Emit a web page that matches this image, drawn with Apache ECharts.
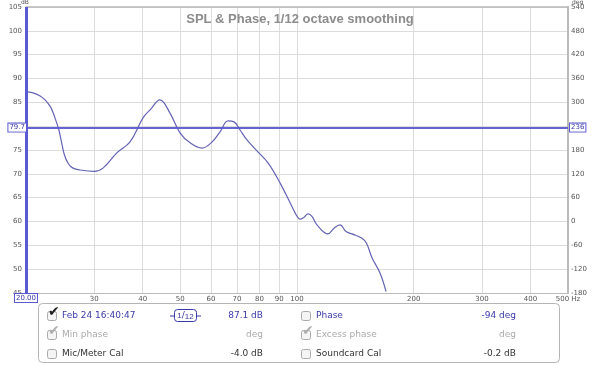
<!DOCTYPE html>
<html>
<head>
<meta charset="utf-8">
<script src="https://cdn.jsdelivr.net/npm/echarts@6/dist/echarts.min.js"></script>
<style>
html, body { margin: 0; padding: 0; background: #fff; }
#chart { width: 600px; height: 365px; }
</style>
</head>
<body>
<div id="chart"></div>
<script>
// SPL curve (Hz, dB)
const freqs = [20, 20.85, 21.7, 22.4, 23.1, 23.5, 23.9, 24.3, 24.7, 25.1, 25.6, 26.3, 27.6, 30, 31.6, 34.3, 37.1,
  40.1, 41.8, 44.3, 47.0, 49.9, 53.0, 56.9, 60.4, 63.3, 66.4, 68.8, 71.3, 74.3, 79.3, 84.2, 90.4, 97.1,
  100.0, 101.8, 104.3, 106.8, 109.3, 112.6, 120.2, 124.6, 129.1, 133.8, 138.6, 147.1, 151.0, 156.1, 163.7, 169.7];
const spl = [87.2, 87.0, 86.4, 85.5, 84.1, 82.8, 81.1, 79.3, 76.6, 74.1, 72.4, 71.3, 70.8, 70.5, 71.2, 74.4, 76.7,
  81.8, 83.4, 85.5, 82.8, 78.6, 76.5, 75.4, 76.7, 78.8, 81.1, 80.9, 79.2, 77.1, 74.6, 72.3, 68.1, 63.1,
  61.1, 60.5, 60.9, 61.6, 61.1, 59.3, 57.4, 58.6, 59.3, 57.9, 57.4, 56.5, 55.5, 52.4, 49.2, 45.3];
const freqTicks = [30, 40, 50, 60, 70, 80, 90, 100, 200, 300, 400, 500];
const cursorFreq = 20;
const cursorSpl = 79.7;
const cursorPhase = 236;

const blue = '#3a3aa8';
const grey = '#555';
const font = 'DejaVu Sans';

const chart = echarts.init(document.getElementById('chart'));

function checkbox(x, y, checked, dim) {
  const els = [{
    type: 'rect', shape: { x: x + 0.5, y: y + 0.5, width: 9, height: 9, r: 2 },
    style: { fill: '#f5f5f5', stroke: '#aaa', lineWidth: 1 }
  }];
  if (checked) {
    els.push({
      type: 'text', x: x + 1, y: y - 6,
      style: { text: '\u2714', fontSize: 14, fill: dim ? '#b0b0b0' : '#222', fontFamily: font }
    });
  }
  return els;
}

function label(x, y, text, color, align) {
  return {
    type: 'text', x: x, y: y,
    style: { text: text, fill: color, fontSize: 9, fontFamily: font, align: align || 'left', verticalAlign: 'middle' }
  };
}

const panel = [
  { type: 'rect', shape: { x: 38.5, y: 303.5, width: 521, height: 59, r: 4 },
    style: { fill: '#fff', stroke: '#b5b5b5', lineWidth: 1 } },
  ...checkbox(47, 311, true, false),
  label(62, 316, 'Feb 24 16:40:47', blue),
  { type: 'rect', shape: { x: 174.5, y: 309.5, width: 22, height: 12, r: 3 },
    style: { fill: 'none', stroke: blue, lineWidth: 1 } },
  { type: 'line', shape: { x1: 170, y1: 316, x2: 174.5, y2: 316 }, style: { stroke: blue } },
  { type: 'line', shape: { x1: 196.5, y1: 316, x2: 201, y2: 316 }, style: { stroke: blue } },
  { type: 'text', x: 185.5, y: 316,
    style: { text: '{a|1}/{b|12}', fontFamily: font, fill: blue, align: 'center', verticalAlign: 'middle',
      rich: { a: { fontSize: 8, fill: blue, verticalAlign: 'top' }, b: { fontSize: 8, fill: blue, verticalAlign: 'bottom' } },
      fontSize: 9 } },
  label(263, 316, '87.1 dB', blue, 'right'),
  ...checkbox(301, 311, false),
  label(316, 316, 'Phase', blue),
  label(516, 316, '-94 deg', blue, 'right'),

  ...checkbox(47, 330, true, true),
  label(62, 335, 'Min phase', '#aaa'),
  label(263, 335, 'deg', '#aaa', 'right'),
  ...checkbox(301, 330, true, true),
  label(316, 335, 'Excess phase', '#aaa'),
  label(516, 335, 'deg', '#aaa', 'right'),

  ...checkbox(47, 349, false),
  label(62, 354, 'Mic/Meter Cal', '#333'),
  label(263, 354, '-4.0 dB', '#333', 'right'),
  ...checkbox(301, 349, false),
  label(316, 354, 'Soundcard Cal', '#333'),
  label(516, 354, '-0.2 dB', '#333', 'right'),

  { type: 'text', x: 21, y: -1, style: { text: 'dB', fontSize: 6, fill: grey, fontFamily: font } },
  { type: 'text', x: 572, y: -1, style: { text: 'deg', fontSize: 6, fill: grey, fontFamily: font } }
];

const option = {
  animation: false,
  backgroundColor: '#fff',
  title: {
    text: 'SPL & Phase, 1/12 octave smoothing',
    left: 'center',
    top: 8,
    textStyle: { color: '#8c8c8c', fontSize: 13, fontWeight: 'bold', fontFamily: 'Liberation Sans' }
  },
  grid: { left: 26, right: 32, top: 7, bottom: 72 },
  xAxis: [{
    type: 'log',
    logBase: 10,
    min: 20,
    max: 500,
    axisLine: { show: true, onZero: false, lineStyle: { color: '#bbb', width: 1 } },
    axisTick: { show: false, customValues: freqTicks },
    axisLabel: {
      customValues: freqTicks,
      fontSize: 7,
      color: grey,
      margin: 3,
      fontFamily: font,
      formatter: v => (v === 500 ? '500 Hz' : String(v))
    },
    splitLine: { show: true, lineStyle: { color: '#dcdcdc', width: 1 } },
    minorSplitLine: { show: false }
  }, {
    type: 'log',
    position: 'top',
    min: 20,
    max: 500,
    axisLine: { show: true, onZero: false, lineStyle: { color: '#b8b8b8', width: 1.5 } },
    axisTick: { show: false },
    axisLabel: { show: false },
    splitLine: { show: false }
  }],
  yAxis: [{
    type: 'value',
    min: 45,
    max: 105,
    interval: 5,
    axisLine: { show: false },
    axisTick: { show: false },
    axisLabel: { fontSize: 7, color: grey, margin: 4, fontFamily: font },
    splitLine: { show: true, lineStyle: { color: '#dcdcdc', width: 1 } }
  }, {
    type: 'value',
    position: 'right',
    min: -180,
    max: 540,
    interval: 60,
    axisLine: { show: true, onZero: false, lineStyle: { color: '#bbb', width: 2 } },
    axisTick: { show: false },
    axisLabel: { fontSize: 7, color: grey, margin: 3, fontFamily: font },
    splitLine: { show: false }
  }],
  graphic: panel,
  series: [{
    type: 'line',
    data: freqs.map((f, i) => [f, spl[i]]),
    smooth: 0.4,
    symbol: 'none',
    clip: true,
    lineStyle: { color: '#6464b4', width: 1.2 },
    markLine: {
      silent: true,
      symbol: 'none',
      animation: false,
      data: [
        { yAxis: cursorSpl, lineStyle: { color: '#5a5ad2', width: 1.5, type: 'solid' },
          label: { show: true, position: 'start', formatter: String(cursorSpl), distance: 0,
            color: blue, fontSize: 7, fontFamily: font, backgroundColor: '#fff',
            borderColor: '#5a5ad2', borderWidth: 1, padding: [1, 1, 0, 1] } },
        { yAxis: cursorSpl, lineStyle: { color: '#5a5ad2', width: 1.5, type: 'solid' },
          label: { show: true, position: 'end', formatter: String(cursorPhase), distance: 2,
            color: blue, fontSize: 7, fontFamily: font, backgroundColor: '#fff',
            borderColor: '#5a5ad2', borderWidth: 1, padding: [1, 1, 0, 1] } },
        { xAxis: cursorFreq, lineStyle: { color: '#5a5ad2', width: 3, type: 'solid' },
          label: { show: true, position: 'start', formatter: '20.00', distance: 1,
            color: blue, fontSize: 7, fontFamily: font, backgroundColor: '#fff',
            borderColor: '#5a5ad2', borderWidth: 1, padding: [1, 1, 0, 1] } }
      ]
    }
  }, {
    type: 'line',
    yAxisIndex: 1,
    data: [],
    symbol: 'none'
  }]
};

chart.setOption(option);
</script>
</body>
</html>
